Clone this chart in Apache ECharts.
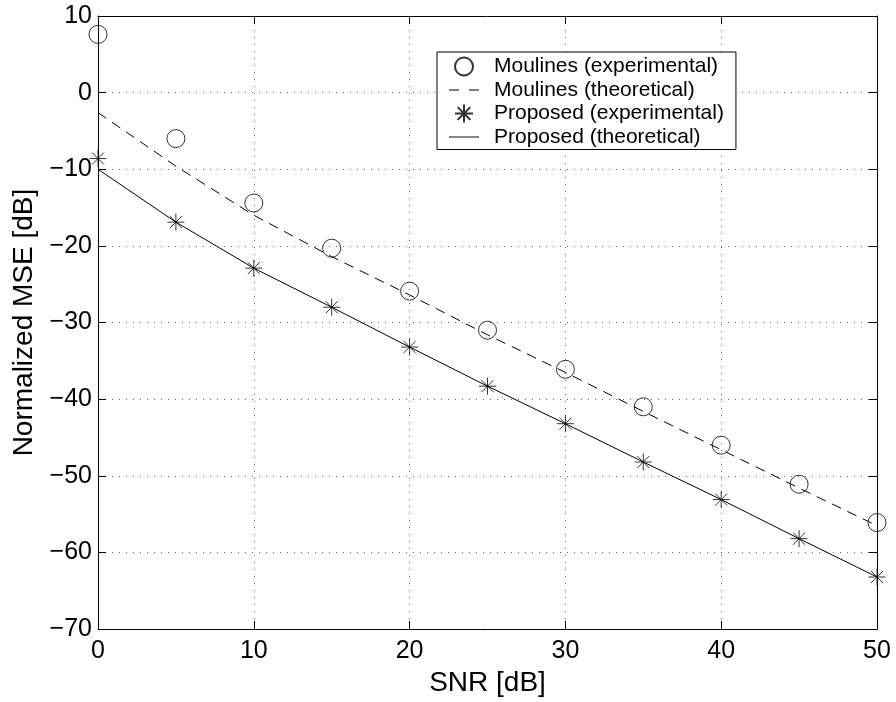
<!DOCTYPE html>
<html>
<head>
<meta charset="utf-8">
<script src="https://cdn.jsdelivr.net/npm/echarts@6/dist/echarts.min.js"></script>
<style>
html,body{margin:0;padding:0;background:#fff;}
#chart{width:896px;height:702px;}
</style>
</head>
<body>
<div id="chart"></div>
<script>
var snr = [0, 5, 10, 15, 20, 25, 30, 35, 40, 45, 50];
var moulinesExp = [7.6, -6.0, -14.4, -20.3, -25.9, -31.0, -36.1, -41.0, -46.0, -51.1, -56.1];
var moulinesTheo = [-2.6, -9.6, -16.0, -21.4, -26.4, -31.6, -36.5, -41.6, -46.6, -51.6, -56.5];
var proposedExp = [-8.6, -16.9, -22.9, -28.0, -33.2, -38.3, -43.2, -48.2, -53.1, -58.2, -63.2];
var proposedTheo = [-10.0, -16.9, -22.9, -28.0, -33.2, -38.3, -43.2, -48.2, -53.1, -58.2, -63.2];
var seriesNames = ['Moulines (experimental)', 'Moulines (theoretical)', 'Proposed (experimental)', 'Proposed (theoretical)'];
var xTitle = 'SNR [dB]';
var yTitle = 'Normalized MSE [dB]';

function pairs(xs, ys) { return xs.map(function (x, i) { return [x, ys[i]]; }); }

var FONT = '"Liberation Sans", Arial, Helvetica, sans-serif';
var starPath = 'path://M0,-10L0,10M-10,0L10,0M-7.07,-7.07L7.07,7.07M-7.07,7.07L7.07,-7.07';
var dashIcon = 'path://M0,0h10v1h-10zM20,0h10v1h-10z';
var solidIcon = 'path://M0,0h32v1h-32z';

var chart = echarts.init(document.getElementById('chart'), null, {renderer: 'canvas'});
var gridLine = {show: true, lineStyle: {color: '#666', width: 1, type: [1, 6]}};
var option = {
  backgroundColor: '#fff',
  animation: false,
  textStyle: {fontFamily: FONT, color: '#000'},
  grid: {left: 98, top: 16, right: 19, bottom: 71, containLabel: false},
  legend: {
    orient: 'vertical',
    left: 437, top: 52,
    backgroundColor: '#fff',
    borderColor: '#000', borderWidth: 1, borderRadius: 0,
    padding: [4, 12, 2, 12],
    itemWidth: 30, itemHeight: 18, itemGap: 2.5,
    data: [
      {name: seriesNames[0]},
      {name: seriesNames[1], icon: dashIcon},
      {name: seriesNames[2]},
      {name: seriesNames[3], icon: solidIcon}
    ],
    textStyle: {fontFamily: FONT, fontSize: 21, lineHeight: 21, color: '#000', padding: [0, 0, 0, 10]}
  },
  xAxis: [{
    type: 'value', min: 0, max: 50, interval: 10, position: 'bottom',
    name: xTitle, nameLocation: 'middle', nameGap: 38,
    nameTextStyle: {fontFamily: FONT, fontSize: 28, color: '#000'},
    axisLine: {show: true, onZero: false, lineStyle: {color: '#000', width: 1}},
    axisTick: {show: true, inside: true, length: 8, lineStyle: {color: '#000'}},
    axisLabel: {show: true, fontFamily: FONT, fontSize: 25, color: '#000', margin: 10},
    splitLine: gridLine
  }, {
    type: 'value', min: 0, max: 50, interval: 10, position: 'top',
    axisLine: {show: true, onZero: false, lineStyle: {color: '#000', width: 1}},
    axisTick: {show: true, inside: true, length: 8, lineStyle: {color: '#000'}},
    axisLabel: {show: false}, splitLine: {show: false}
  }],
  yAxis: [{
    type: 'value', min: -70, max: 10, interval: 10, position: 'left',
    name: yTitle, nameLocation: 'middle', nameGap: 60, nameRotate: 90,
    nameTextStyle: {fontFamily: FONT, fontSize: 28, color: '#000'},
    axisLine: {show: true, onZero: false, lineStyle: {color: '#000', width: 1}},
    axisTick: {show: true, inside: true, length: 8, lineStyle: {color: '#000'}},
    axisLabel: {show: true, fontFamily: FONT, fontSize: 25, color: '#000', margin: 6,
      formatter: function (v) { return v < 0 ? '\u2212' + Math.abs(v) : String(v); }},
    splitLine: gridLine
  }, {
    type: 'value', min: -70, max: 10, interval: 10, position: 'right',
    axisLine: {show: true, onZero: false, lineStyle: {color: '#000', width: 1}},
    axisTick: {show: true, inside: true, length: 8, lineStyle: {color: '#000'}},
    axisLabel: {show: false}, splitLine: {show: false}
  }],
  series: [{
    name: seriesNames[0], type: 'scatter', xAxisIndex: 0, yAxisIndex: 0,
    symbol: 'circle', symbolSize: 18,
    itemStyle: {color: 'rgba(0,0,0,0)', borderColor: '#000', borderWidth: 1},
    data: pairs(snr, moulinesExp), z: 3
  }, {
    name: seriesNames[1], type: 'line', xAxisIndex: 0, yAxisIndex: 0,
    showSymbol: false, symbol: 'none', smooth: false,
    itemStyle: {color: '#000'},
    lineStyle: {color: '#000', width: 1, type: [10, 7]},
    data: pairs(snr, moulinesTheo), z: 2
  }, {
    name: seriesNames[2], type: 'scatter', xAxisIndex: 0, yAxisIndex: 0,
    symbol: starPath, symbolSize: 17,
    itemStyle: {color: 'rgba(0,0,0,0)', borderColor: '#000', borderWidth: 1},
    data: pairs(snr, proposedExp), z: 3
  }, {
    name: seriesNames[3], type: 'line', xAxisIndex: 0, yAxisIndex: 0,
    showSymbol: false, symbol: 'none', smooth: false,
    itemStyle: {color: '#000'},
    lineStyle: {color: '#000', width: 1, type: 'solid'},
    data: pairs(snr, proposedTheo), z: 2
  }]
};
chart.setOption(option);
</script>
</body>
</html>
